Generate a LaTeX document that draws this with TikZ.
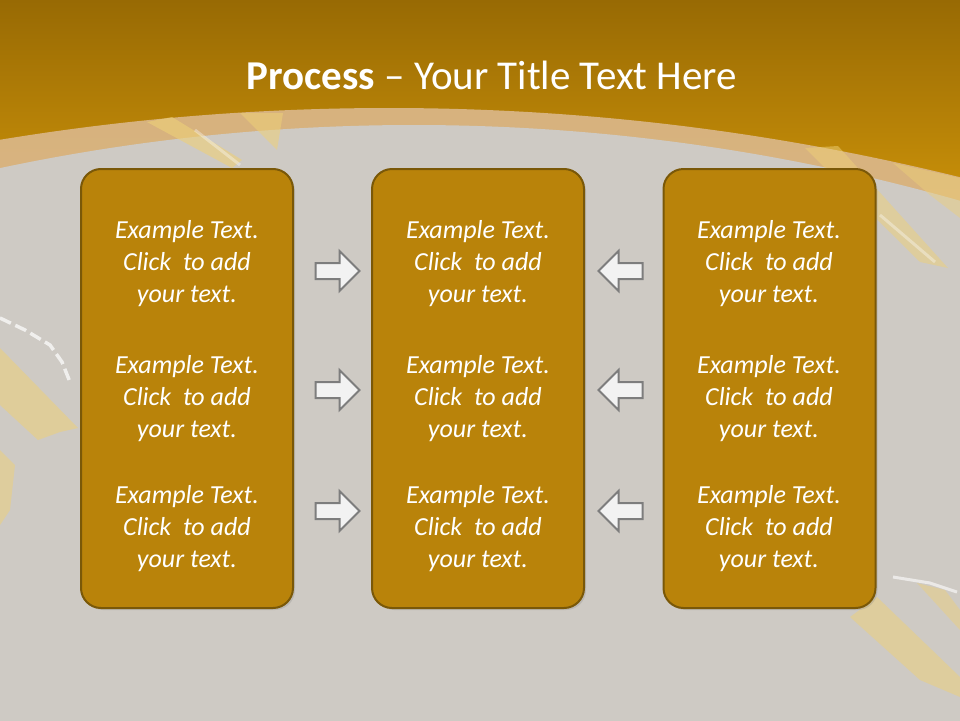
\documentclass[tikz,border=0pt]{standalone}
\usepackage{fontspec}
\setmainfont{Carlito}
\usetikzlibrary{shapes.arrows,shadows,positioning}

\definecolor{bandtop}{RGB}{152,106,4}
\definecolor{bandbot}{RGB}{216,156,10}
\definecolor{slate}{RGB}{206,202,196}
\definecolor{archband}{RGB}{219,184,140}
\definecolor{streak}{RGB}{238,208,120}
\definecolor{boxfill}{RGB}{185,131,10}
\definecolor{boxline}{RGB}{122,88,8}
\definecolor{arrowline}{RGB}{125,125,125}
\definecolor{arrowfill}{RGB}{242,242,242}

\begin{document}
\begin{tikzpicture}[x=1pt,y=-1pt,
  stepcard/.style={draw=boxline,line width=2pt,fill=boxfill,rounded corners=20pt,
    minimum width=212pt,minimum height=439pt,
    drop shadow={opacity=0.25,shadow xshift=2pt,shadow yshift=-2pt}},
  cardtext/.style={text=white,align=center,font=\fontsize{26}{32}\selectfont\itshape},
  blockarrow/.style={single arrow,draw=arrowline,line width=2pt,fill=arrowfill,
    minimum height=44pt,minimum width=38pt,inner sep=7pt,
    single arrow head extend=12pt,single arrow head indent=0pt}]
\useasboundingbox (0,0) rectangle (960,720);
% background
\begin{scope}
\clip (0,0) rectangle (960,720);
\shade[top color=bandtop,bottom color=bandbot] (0,0) rectangle (960,260);
\fill[archband,opacity=0.9] (389,2478) circle[radius=2370];
\fill[slate] (414,2117) circle[radius=1992];
% grunge streaks
\fill[streak,opacity=0.6] (147,122) -- (172,117) -- (242,160) -- (232,168) -- cycle;
\draw[white,opacity=0.35,line width=3pt] (195,130) -- (240,165);
\fill[streak,opacity=0.55] (240,113) -- (283,113) -- (277,150) -- cycle;
\fill[streak,opacity=0.5] (805,148) -- (838,146) -- (948,268) -- (920,262) -- cycle;
\draw[white,opacity=0.35,line width=3pt] (880,215) -- (935,262);
\fill[streak,opacity=0.45] (893,163) -- (960,178) -- (960,218) -- (930,195) -- cycle;
\fill[streak,opacity=0.55] (0,348) -- (78,428) -- (60,432) -- (38,440) -- (0,405) -- cycle;
\fill[streak,opacity=0.5] (0,450) -- (15,465) -- (10,510) -- (0,525) -- cycle;
\fill[streak,opacity=0.5] (850,617) -- (877,597) -- (960,677) -- (960,697) -- (920,680) -- cycle;
\fill[streak,opacity=0.45] (917,583) -- (945,590) -- (960,610) -- (960,630) -- cycle;
\draw[white,opacity=0.7,line width=3.5pt,dash pattern=on 12pt off 5pt] (0,318) -- (25,330) -- (50,345) -- (62,362) -- (70,382);
\draw[white,opacity=0.6,line width=3pt] (893,577) -- (930,583) -- (957,592);
\end{scope}
% title
\node[text=white,font=\fontsize{41}{48}\selectfont] (title) at (492,75)
  {\textbf{Process} -- Your Title Text Here};
% cards
\node[stepcard] (left) at (187,388.5) {};
\node[stepcard] (mid) at (478,388.5) {};
\node[stepcard] (right) at (769.5,388.5) {};
\foreach \col/\cx in {l/187,m/478,r/769}{
  \foreach \row/\cy in {1/264,2/399,3/529}{
    \node[cardtext] (\col\row) at (\cx,\cy) {Example Text.\\Click\ \ to add\\your text.};
  }
}
% arrows
\foreach \row/\cy in {1/271,2/390,3/511}{
  \node[blockarrow] (fw\row) at (333.5,\cy) {};
  \node[blockarrow,shape border rotate=180] (bw\row) at (624.5,\cy) {};
}
\end{tikzpicture}
\end{document}
